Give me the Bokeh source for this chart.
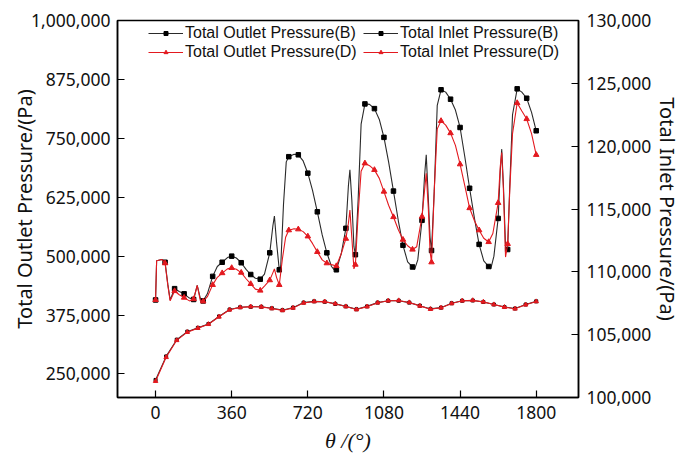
from bokeh.plotting import figure
from bokeh.models import (Range1d, LinearAxis, FixedTicker, NumeralTickFormatter,
                          Legend, LegendItem, ColumnDataSource)
from bokeh.embed import file_html
from bokeh.resources import INLINE

# ---------------- data ----------------
# Total outlet pressure, case B (kPa), dense line points
outlet_B_theta = [0, 5, 30, 45, 58, 69, 90, 112, 135, 160, 180, 197, 212, 225, 245, 270, 292, 315, 340, 360,
                  382, 405, 428, 450, 472, 495, 515, 540, 555, 562, 572, 585, 592, 605, 618, 630, 655, 675, 698, 720,
                  742, 765, 788, 810, 832, 845, 855, 878, 900, 912, 919, 928, 938, 945, 958, 972, 990, 1012, 1035, 1058,
                  1080, 1102, 1125, 1148, 1170, 1192, 1215, 1225, 1240, 1260, 1272, 1280, 1290, 1298, 1305, 1318, 1332, 1350, 1372, 1395,
                  1418, 1440, 1462, 1485, 1508, 1530, 1552, 1575, 1585, 1600, 1620, 1630, 1637, 1645, 1655, 1665, 1675, 1688, 1710, 1732,
                  1755, 1778, 1800]
outlet_B_kpa = [407, 490, 493, 487, 440, 407, 431, 425, 420, 411, 408, 438, 410, 405, 420, 457, 478, 487, 497, 500,
                496, 486, 472, 461, 453, 451, 462, 507, 565, 585, 530, 471, 480, 610, 700, 711, 716, 715, 702, 676,
                640, 594, 545, 507, 478, 471, 471, 505, 559, 650, 683, 620, 520, 503, 620, 780, 823, 822, 813, 790,
                752, 700, 638, 575, 523, 488, 477, 472, 492, 576, 670, 715, 620, 540, 512, 640, 820, 853, 848, 833,
                810, 773, 712, 644, 580, 525, 490, 478, 473, 500, 580, 680, 727, 650, 520, 514, 650, 800, 855, 848,
                835, 805, 766]

# Total outlet pressure, case D (kPa), dense line points
outlet_D_theta = [0, 5, 30, 45, 58, 69, 90, 112, 135, 160, 180, 197, 212, 225, 245, 270, 292, 315, 340, 360,
                  382, 405, 428, 450, 472, 495, 518, 540, 555, 562, 572, 585, 600, 615, 630, 655, 675, 698, 720, 742,
                  765, 788, 810, 832, 855, 878, 900, 912, 919, 928, 938, 945, 958, 972, 990, 1012, 1035, 1058, 1080, 1102,
                  1125, 1148, 1170, 1192, 1215, 1235, 1260, 1272, 1280, 1290, 1298, 1305, 1318, 1332, 1350, 1372, 1395, 1418, 1440, 1462,
                  1485, 1508, 1530, 1552, 1575, 1595, 1620, 1630, 1637, 1645, 1655, 1665, 1675, 1688, 1710, 1732, 1755, 1778, 1800]
outlet_D_kpa = [407, 490, 493, 485, 438, 405, 426, 418, 412, 405, 409, 438, 405, 404, 414, 439, 455, 464, 473, 475,
                472, 465, 452, 441, 430, 427, 438, 449, 465, 473, 455, 439, 495, 540, 555, 558, 557, 552, 542, 527,
                509, 492, 485, 482, 479, 505, 537, 570, 598, 540, 473, 482, 590, 680, 697, 692, 683, 665, 637, 608,
                583, 556, 535, 522, 514, 520, 584, 640, 676, 600, 510, 487, 640, 770, 787, 778, 761, 735, 695, 650,
                602, 575, 555, 538, 530, 548, 613, 690, 720, 640, 498, 526, 640, 760, 825, 808, 791, 760, 715]

# Total inlet pressure (Pa), right axis
inlet_theta = [0, 50, 100, 150, 200, 250, 300, 350, 400, 450, 500, 550, 600, 650, 700, 750, 800, 850, 900,
               950, 1000, 1050, 1100, 1150, 1200, 1250, 1300, 1350, 1400, 1450, 1500, 1550, 1600, 1650, 1700, 1750, 1800]
inlet_B = [101400, 103270, 104600, 105240, 105540, 105850, 106450, 107000, 107180, 107220, 107220, 107100, 106950,
           107150, 107550, 107650, 107620, 107450, 107250, 107020, 107250, 107550, 107700, 107700, 107550, 107300,
           107050, 107150, 107500, 107700, 107720, 107600, 107400, 107200, 107080, 107400, 107650]
inlet_D = [101300, 103200, 104550, 105200, 105520, 105830, 106420, 106980, 107170, 107230, 107210, 107080, 106930,
           107130, 107530, 107640, 107630, 107460, 107240, 107000, 107230, 107540, 107700, 107720, 107560, 107290,
           107030, 107140, 107480, 107700, 107730, 107610, 107400, 107190, 107060, 107380, 107640]

x_ticks = [0, 360, 720, 1080, 1440, 1800]
left_ticks = [250000, 375000, 500000, 625000, 750000, 875000, 1000000]
right_ticks = [100000, 105000, 110000, 115000, 120000, 125000, 130000]

BLACK = "#2a2a2a"
RED = "#e3191f"

# ---------------- sources ----------------
sB = ColumnDataSource(dict(x=outlet_B_theta, y=[v * 1000 for v in outlet_B_kpa]))
sD = ColumnDataSource(dict(x=outlet_D_theta, y=[v * 1000 for v in outlet_D_kpa]))
mB = ColumnDataSource(dict(x=[t for t in outlet_B_theta if t % 45 == 0],
                           y=[v * 1000 for t, v in zip(outlet_B_theta, outlet_B_kpa) if t % 45 == 0]))
mD = ColumnDataSource(dict(x=[t for t in outlet_D_theta if t % 45 == 0],
                           y=[v * 1000 for t, v in zip(outlet_D_theta, outlet_D_kpa) if t % 45 == 0]))
iB = ColumnDataSource(dict(x=inlet_theta, y=inlet_B))
iD = ColumnDataSource(dict(x=inlet_theta, y=inlet_D))

p = figure(width=684, height=462, output_backend="svg", toolbar_location=None,
           x_range=Range1d(-180, 2000), y_range=Range1d(200000, 1000000),
           min_border_left=117, min_border_right=100, min_border_top=20, min_border_bottom=65)
p.extra_y_ranges = {"inlet": Range1d(100000, 130000)}

p.xgrid.visible = False
p.ygrid.visible = False
p.outline_line_color = "black"
p.outline_line_width = 1.5
p.outline_line_alpha = 1.0
p.background_fill_color = "white"
p.border_fill_color = "white"

right_axis = LinearAxis(y_range_name="inlet", axis_label="Total Inlet Pressure/(Pa)")
p.add_layout(right_axis, "right")

p.xaxis.ticker = FixedTicker(ticks=x_ticks)
p.yaxis[0].ticker = FixedTicker(ticks=left_ticks)
right_axis.ticker = FixedTicker(ticks=right_ticks)
p.yaxis[0].formatter = NumeralTickFormatter(format="0,0")
right_axis.formatter = NumeralTickFormatter(format="0,0")
p.yaxis[0].axis_label = "Total Outlet Pressure/(Pa)"
p.xaxis.axis_label = "θ /(°)"

for ax in [p.xaxis[0], p.yaxis[0], right_axis]:
    ax.axis_line_width = 1.5
    ax.axis_line_color = "black"
    ax.major_tick_in = 7
    ax.major_tick_out = 0
    ax.major_tick_line_width = 1.2
    ax.minor_tick_line_color = None
    ax.major_label_text_font = "Noto Sans"
    ax.major_label_text_font_size = "17.5px"
    ax.major_label_text_color = "#111111"
    ax.major_label_standoff = 7
    ax.axis_label_text_font = "Noto Sans"
    ax.axis_label_text_font_size = "20px"
    ax.axis_label_text_font_style = "normal"
    ax.axis_label_text_color = "#111111"

p.xaxis.major_label_standoff = 8
p.xaxis.axis_label_text_font = "Liberation Serif"
p.xaxis.axis_label_text_font_style = "italic"
p.xaxis.axis_label_text_font_size = "22px"
p.xaxis.axis_label_standoff = 6
p.yaxis[0].axis_label_standoff = -10
right_axis.major_label_standoff = 8
right_axis.axis_label_standoff = 0

# ---------------- glyphs ----------------
lB = p.line("x", "y", source=sB, line_color=BLACK, line_width=1.1)
p.scatter("x", "y", source=mB, marker="square", size=4.5, color="black")
lD = p.line("x", "y", source=sD, line_color=RED, line_width=1.1)
p.scatter("x", "y", source=mD, marker="triangle", size=5.5, color=RED)

liB = p.line("x", "y", source=iB, y_range_name="inlet", line_color=BLACK, line_width=1.1)
kB = p.scatter("x", "y", source=iB, y_range_name="inlet", marker="square", size=3, color="black")
liD = p.line("x", "y", source=iD, y_range_name="inlet", line_color=RED, line_width=1.1)
kD = p.scatter("x", "y", source=iD, y_range_name="inlet", marker="triangle", size=4.5, color=RED)


def make_legend(items, loc):
    lg = Legend(items=items, location=loc, orientation="vertical")
    lg.border_line_color = None
    lg.background_fill_alpha = 0
    lg.label_text_font = "Liberation Sans"
    lg.label_text_font_size = "16px"
    lg.label_text_color = "#111111"
    lg.glyph_width = 35
    lg.glyph_height = 10
    lg.label_height = 19
    lg.label_standoff = 2
    lg.spacing = 0
    lg.padding = 0
    lg.margin = 0
    return lg


p.add_layout(make_legend([
    LegendItem(label="Total Outlet Pressure(B)", renderers=[lB, kB]),
    LegendItem(label="Total Outlet Pressure(D)", renderers=[lD, kD]),
], (31, 336)))
p.add_layout(make_legend([
    LegendItem(label="Total Inlet Pressure(B)", renderers=[liB, kB]),
    LegendItem(label="Total Inlet Pressure(D)", renderers=[liD, kD]),
], (246, 336)))

open("out.html", "w").write(file_html(p, INLINE))
